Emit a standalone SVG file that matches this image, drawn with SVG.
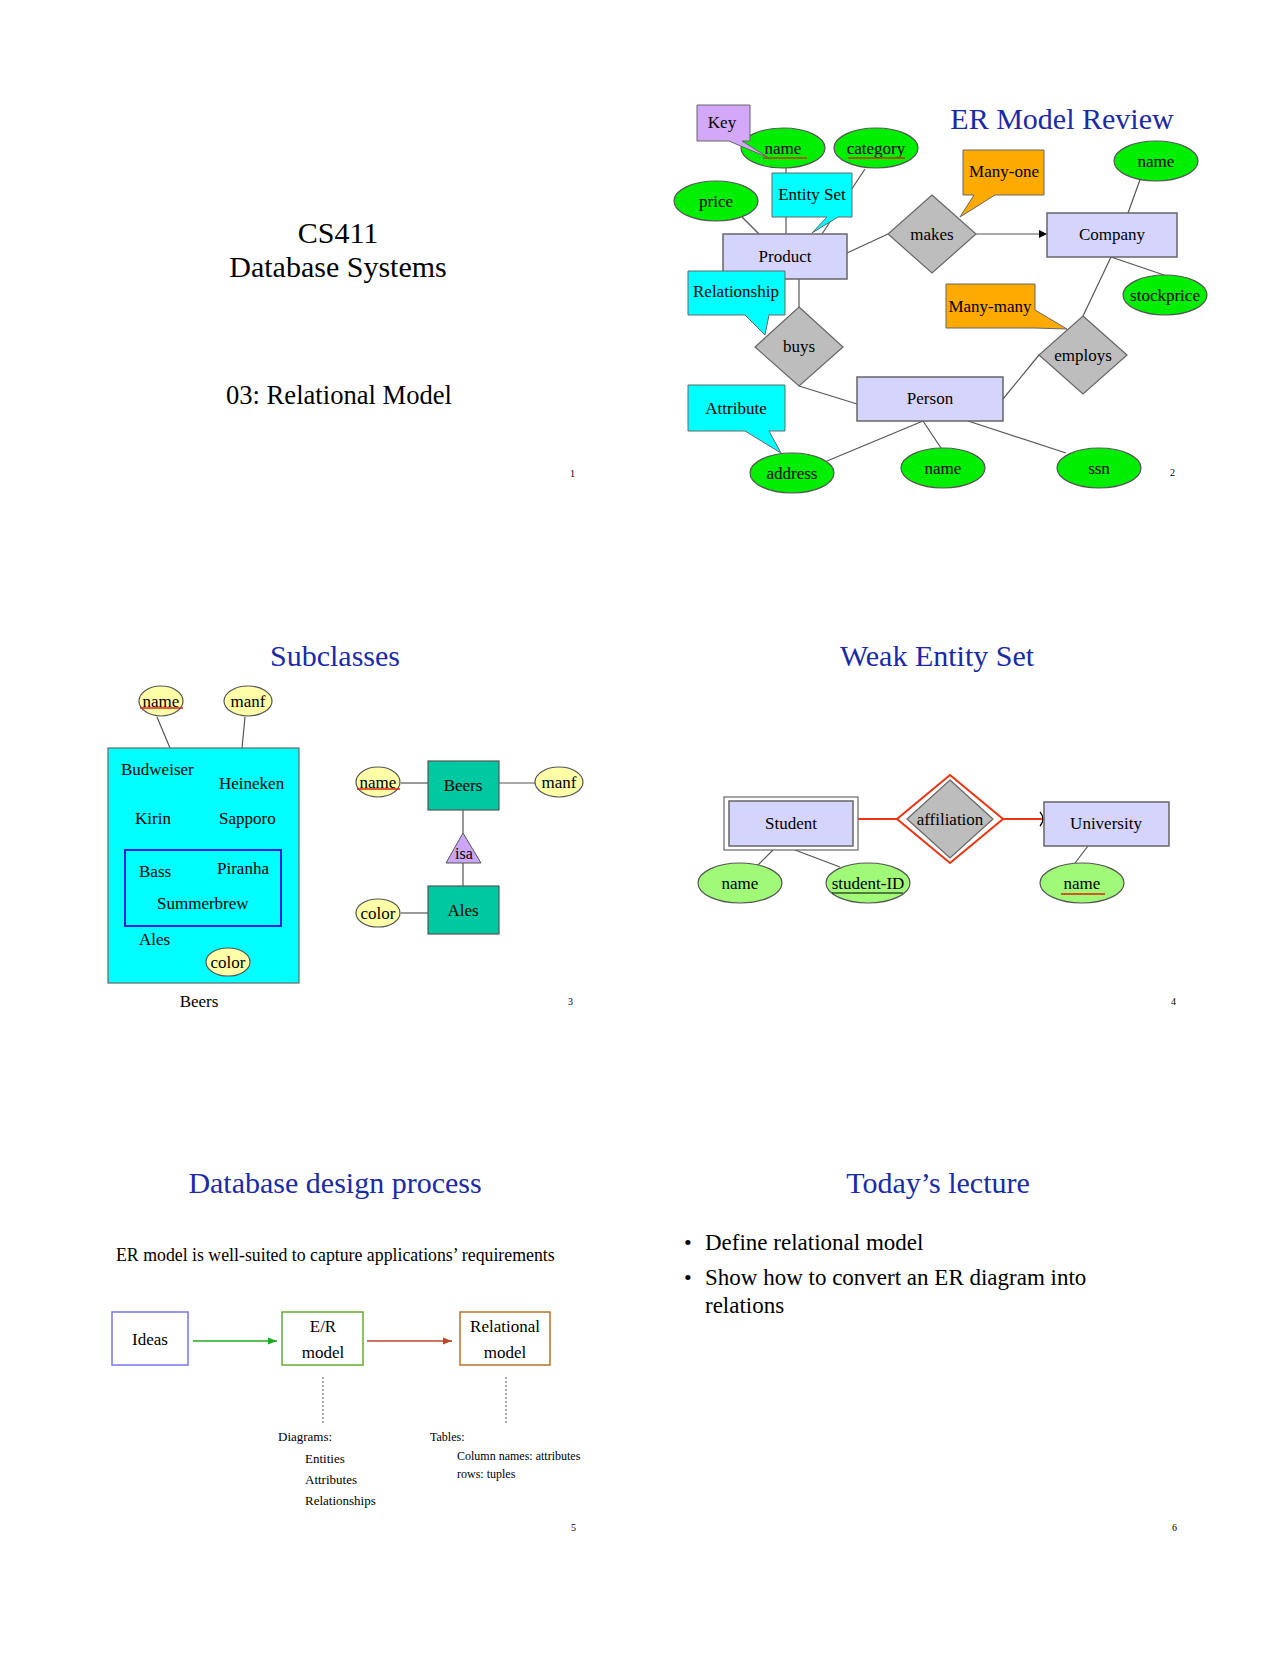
<svg xmlns="http://www.w3.org/2000/svg" width="1280" height="1656" viewBox="0 0 1280 1656">
<style>
text{font-family:"Liberation Serif","Times New Roman",serif;fill:#000}
.t{font-size:30px;fill:#1a2aa8;text-anchor:middle}
.c{text-anchor:middle}
.s16{font-size:16px}
.s17{font-size:17px}
.ln{stroke:#555;stroke-width:1.2;fill:none}
.ent{fill:#d4d4fc;stroke:#666;stroke-width:1.5}
.dia{fill:#bdbdbd;stroke:#666;stroke-width:1.2}
.att{fill:#00ee00;stroke:#555;stroke-width:1.2}
.att2{fill:#a0fa78;stroke:#555;stroke-width:1.2}
.yel{fill:#ffffa8;stroke:#555;stroke-width:1.2}
.pg{font-size:10px}
</style>
<defs>
<marker id="ah" viewBox="0 0 10 10" refX="10" refY="5" markerWidth="7" markerHeight="7" orient="auto"><path d="M0,0 L10,5 L0,10 Z" fill="#000"/></marker>
<marker id="ag" viewBox="0 0 10 10" refX="10" refY="5" markerWidth="6" markerHeight="6" orient="auto"><path d="M0,1 L10,5 L0,9 Z" fill="#22aa22"/></marker>
<marker id="ar" viewBox="0 0 10 10" refX="10" refY="5" markerWidth="6" markerHeight="6" orient="auto"><path d="M0,1 L10,5 L0,9 Z" fill="#b84a2a"/></marker>
</defs>
<rect width="1280" height="1656" fill="#fff"/>

<!-- Slide 1 -->
<g id="slide1">
<text x="338" y="243" class="c" font-size="30">CS411</text>
<text x="338" y="277" class="c" font-size="30">Database Systems</text>
<text x="339" y="404" class="c" font-size="26.6">03: Relational Model</text>
<text x="570" y="477" class="pg">1</text>
</g>

<!-- Slide 2 connectors -->
<g id="connectors-er">
<line class="ln" x1="786" y1="168" x2="786" y2="234"/>
<line class="ln" x1="865" y1="169" x2="822" y2="234"/>
<line class="ln" x1="742" y1="217" x2="759" y2="234"/>
<line class="ln" x1="847" y1="253" x2="888" y2="234"/>
<line class="ln" x1="976" y1="234" x2="1047" y2="234" stroke="#000" marker-end="url(#ah)"/>
<line class="ln" x1="1141" y1="177" x2="1128" y2="213"/>
<line class="ln" x1="1111" y1="257" x2="1164" y2="275"/>
<line class="ln" x1="1111" y1="257" x2="1083" y2="316"/>
<line class="ln" x1="1039" y1="355" x2="1003" y2="399"/>
<line class="ln" x1="799" y1="279" x2="799" y2="307"/>
<line class="ln" x1="799" y1="386" x2="857" y2="404"/>
<line class="ln" x1="923" y1="421" x2="827" y2="461"/>
<line class="ln" x1="923" y1="421" x2="941" y2="448"/>
<line class="ln" x1="968" y1="421" x2="1066" y2="453"/>
</g>
<g id="slide2">
<text x="1062" y="129" class="t">ER Model Review</text>
<g id="n-name1"><ellipse class="att" cx="783" cy="148" rx="42" ry="20"/><text x="783" y="154" class="c s17">name</text><line x1="763" y1="158" x2="807" y2="158" stroke="#d03010" stroke-width="1.5"/></g>
<g id="n-category"><ellipse class="att" cx="876" cy="148" rx="42" ry="20"/><text x="876" y="154" class="c s17">category</text><line x1="848" y1="158" x2="905" y2="158" stroke="#d03010" stroke-width="1.5"/></g>
<g id="n-price"><ellipse class="att" cx="716" cy="201" rx="42" ry="20"/><text x="716" y="207" class="c s17">price</text></g>
<g id="n-key"><path d="M697,105 H750 V141 H742 L769,158 L729,141 H697 Z" fill="#d4a8f8" stroke="#666"/><text x="722" y="128" class="c s17">Key</text></g>
<g id="n-entityset"><path d="M772,173 H852 V217 H838 L812,233 L827,217 H772 Z" fill="#00ffff" stroke="#666"/><text x="812" y="200" class="c s17">Entity Set</text></g>
<g id="n-product"><rect class="ent" x="723" y="234" width="124" height="45"/><text x="785" y="262" class="c s17">Product</text></g>
<g id="n-relationship"><path d="M688,271 H785 V315 H769 L765,335 L745,315 H688 Z" fill="#00ffff" stroke="#666"/><text x="736" y="297" class="c s17">Relationship</text></g>
<g id="n-makes"><path class="dia" d="M932,195 L976,234 L932,273 L888,234 Z"/><text x="932" y="240" class="c s17">makes</text></g>
<g id="n-manyone"><path d="M963,150 H1044 V195 H995 L960,217 L974,195 H963 Z" fill="#ffaa00" stroke="#666"/><text x="1004" y="177" class="c s17">Many-one</text></g>
<g id="n-company"><rect class="ent" x="1047" y="213" width="130" height="44"/><text x="1112" y="240" class="c s17">Company</text></g>
<g id="n-name2"><ellipse class="att" cx="1156" cy="161" rx="42" ry="20"/><text x="1156" y="167" class="c s17">name</text></g>
<g id="n-stockprice"><ellipse class="att" cx="1165" cy="295" rx="42" ry="20"/><text x="1165" y="301" class="c s17">stockprice</text></g>
<g id="n-manymany"><path d="M946,284 H1035 V310 L1067,329 L1035,328 H946 Z" fill="#ffaa00" stroke="#666"/><text x="990" y="312" class="c s17">Many-many</text></g>
<g id="n-buys"><path class="dia" d="M799,307 L843,347 L799,386 L755,347 Z"/><text x="799" y="352" class="c s17">buys</text></g>
<g id="n-employs"><path class="dia" d="M1083,316 L1127,355 L1083,394 L1039,355 Z"/><text x="1083" y="361" class="c s17">employs</text></g>
<g id="n-person"><rect class="ent" x="857" y="377" width="146" height="44"/><text x="930" y="404" class="c s17">Person</text></g>
<g id="n-attribute"><path d="M688,385 H785 V431 H769 L781,453 L745,431 H688 Z" fill="#00ffff" stroke="#666"/><text x="736" y="414" class="c s17">Attribute</text></g>
<g id="n-address"><ellipse class="att" cx="792" cy="473" rx="42" ry="20"/><text x="792" y="479" class="c s17">address</text></g>
<g id="n-name3"><ellipse class="att" cx="943" cy="468" rx="42" ry="20"/><text x="943" y="474" class="c s17">name</text></g>
<g id="n-ssn"><ellipse class="att" cx="1099" cy="468" rx="42" ry="20"/><text x="1099" y="474" class="c s17">ssn</text></g>
<text x="1170" y="476" class="pg">2</text>
</g>

<!-- Slide 3 -->
<g id="connectors-sub">
<line class="ln" x1="157" y1="717" x2="170" y2="748"/>
<line class="ln" x1="245" y1="717" x2="242" y2="748"/>
<line class="ln" x1="228" y1="926" x2="228" y2="948"/>
<line class="ln" x1="463" y1="810" x2="463" y2="833"/>
<line class="ln" x1="463" y1="863" x2="463" y2="886"/>
<line class="ln" x1="401" y1="783" x2="428" y2="783"/>
<line class="ln" x1="499" y1="783" x2="536" y2="783"/>
<line class="ln" x1="401" y1="913" x2="428" y2="913"/>
</g>
<g id="slide3">
<text x="335" y="666" class="t">Subclasses</text>
<g id="s-beersset"><rect x="108" y="748" width="191" height="235" fill="#00ffff" stroke="#666" stroke-width="1.2"/>
<text x="121" y="775" class="s17">Budweiser</text><text x="219" y="789" class="s17">Heineken</text>
<text x="135" y="824" class="s17">Kirin</text><text x="219" y="824" class="s17">Sapporo</text>
<text x="139" y="945" class="s17">Ales</text></g>
<g id="s-alesset"><rect x="125" y="850" width="156" height="76" fill="none" stroke="#2020ee" stroke-width="2"/>
<text x="139" y="877" class="s17">Bass</text><text x="217" y="874" class="s17">Piranha</text><text x="157" y="909" class="s17">Summerbrew</text></g>
<g id="s-name1"><ellipse class="yel" cx="161" cy="701" rx="22" ry="15"/><text x="161" y="707" class="c s17">name</text><line x1="140" y1="708" x2="183" y2="708" stroke="#e02010" stroke-width="1.5"/></g>
<g id="s-manf1"><ellipse class="yel" cx="248" cy="701" rx="24" ry="15"/><text x="248" y="707" class="c s17">manf</text></g>
<g id="s-color1"><ellipse class="yel" cx="228" cy="962" rx="22" ry="14"/><text x="228" y="968" class="c s17">color</text></g>
<text x="199" y="1007" class="c s17">Beers</text>
<g id="s-beers"><rect x="428" y="761" width="71" height="49" fill="#00c8a0" stroke="#555" stroke-width="1.2"/><text x="463" y="791" class="c s17">Beers</text></g>
<g id="s-ales"><rect x="428" y="886" width="71" height="48" fill="#00c8a0" stroke="#555" stroke-width="1.2"/><text x="463" y="916" class="c s17">Ales</text></g>
<g id="s-isa"><path d="M463,833 L481,863 L446,863 Z" fill="#cca6f8" stroke="#555"/><text x="464" y="859" class="c s16">isa</text></g>
<g id="s-name2"><ellipse class="yel" cx="378" cy="782" rx="22" ry="15"/><text x="378" y="788" class="c s17">name</text><line x1="357" y1="789" x2="400" y2="789" stroke="#e02010" stroke-width="1.5"/></g>
<g id="s-manf2"><ellipse class="yel" cx="559" cy="782" rx="24" ry="15"/><text x="559" y="788" class="c s17">manf</text></g>
<g id="s-color2"><ellipse class="yel" cx="378" cy="913" rx="22" ry="14"/><text x="378" y="919" class="c s17">color</text></g>
<text x="568" y="1005" class="pg">3</text>
</g>

<!-- Slide 4 -->
<g id="connectors-weak">
<line x1="853" y1="819" x2="897" y2="819" stroke="#ee3311" stroke-width="2"/>
<line x1="1003" y1="819" x2="1043" y2="819" stroke="#ee3311" stroke-width="2"/>
<path d="M1040,812 Q1046,819 1040,826" fill="none" stroke="#000" stroke-width="1.2"/>
<line class="ln" x1="773" y1="850" x2="756" y2="867"/>
<line class="ln" x1="795" y1="850" x2="840" y2="867"/>
<line class="ln" x1="1088" y1="846" x2="1075" y2="863"/>
</g>
<g id="slide4">
<text x="937" y="666" class="t">Weak Entity Set</text>
<g id="w-student"><rect x="724" y="797" width="134" height="53" fill="#fff" stroke="#666" stroke-width="1.2"/><rect class="ent" x="729" y="801" width="124" height="45"/><text x="791" y="829" class="c s17">Student</text></g>
<g id="w-affiliation"><path d="M950,775 L1003,819 L950,863 L897,819 Z" fill="#fff" stroke="#ee3311" stroke-width="2"/><path class="dia" d="M950,780 L993,819 L950,858 L907,819 Z"/><text x="950" y="825" class="c s17">affiliation</text></g>
<g id="w-university"><rect class="ent" x="1044" y="802" width="125" height="44"/><text x="1106" y="829" class="c s17">University</text></g>
<g id="w-name"><ellipse class="att2" cx="740" cy="883" rx="42" ry="20"/><text x="740" y="889" class="c s17">name</text></g>
<g id="w-sid"><ellipse class="att2" cx="868" cy="883" rx="42" ry="20"/><text x="868" y="889" class="c s17">student-ID</text><line x1="832" y1="893" x2="903" y2="893" stroke="#000" stroke-width="1.2"/></g>
<g id="w-uname"><ellipse class="att2" cx="1082" cy="883" rx="42" ry="20"/><text x="1082" y="889" class="c s17">name</text><line x1="1061" y1="894" x2="1105" y2="894" stroke="#e02010" stroke-width="1.5"/></g>
<text x="1171" y="1005" class="pg">4</text>
</g>

<!-- Slide 5 -->
<g id="connectors-design">
<line x1="193" y1="1341" x2="277" y2="1341" stroke="#22aa22" stroke-width="1.5" marker-end="url(#ag)"/>
<line x1="367" y1="1341" x2="452" y2="1341" stroke="#b84a2a" stroke-width="1.5" marker-end="url(#ar)"/>
<line x1="323" y1="1377" x2="323" y2="1424" stroke="#555" stroke-dasharray="2,2"/>
<line x1="506" y1="1377" x2="506" y2="1424" stroke="#555" stroke-dasharray="2,2"/>
</g>
<g id="slide5">
<text x="335" y="1193" class="t">Database design process</text>
<text x="116" y="1261" font-size="17.8">ER model is well-suited to capture applications’ requirements</text>
<g id="d-ideas"><rect x="112" y="1312" width="76" height="53" fill="#fff" stroke="#7777ee" stroke-width="1.5"/><text x="150" y="1345" class="c s17">Ideas</text></g>
<g id="d-er"><rect x="282" y="1312" width="81" height="53" fill="#fff" stroke="#66aa33" stroke-width="1.5"/><text x="323" y="1332" class="c s17">E/R</text><text x="323" y="1358" class="c s17">model</text></g>
<g id="d-rel"><rect x="460" y="1312" width="90" height="53" fill="#fff" stroke="#b8702a" stroke-width="1.5"/><text x="505" y="1332" class="c s17">Relational</text><text x="505" y="1358" class="c s17">model</text></g>
<text x="278" y="1441" font-size="13">Diagrams:</text>
<text x="305" y="1463" font-size="13">Entities</text>
<text x="305" y="1484" font-size="13">Attributes</text>
<text x="305" y="1505" font-size="13">Relationships</text>
<text x="430" y="1441" font-size="12">Tables:</text>
<text x="457" y="1460" font-size="12">Column names: attributes</text>
<text x="457" y="1478" font-size="12">rows: tuples</text>
<text x="571" y="1531" class="pg">5</text>
</g>

<!-- Slide 6 -->
<g id="slide6">
<text x="938" y="1193" class="t">Today’s lecture</text>
<text x="684" y="1250" font-size="22">•</text>
<text x="705" y="1250" font-size="23">Define relational model</text>
<text x="684" y="1285" font-size="22">•</text>
<text x="705" y="1285" font-size="23">Show how to convert an ER diagram into</text>
<text x="705" y="1313" font-size="23">relations</text>
<text x="1172" y="1531" class="pg">6</text>
</g>
</svg>
